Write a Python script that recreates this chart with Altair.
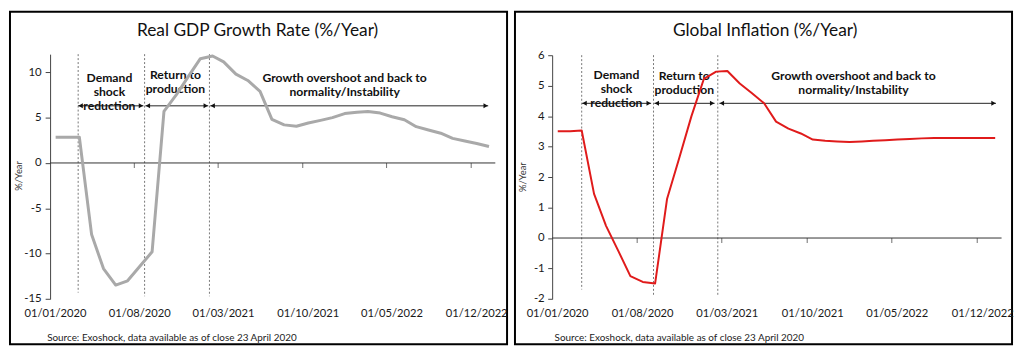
import altair as alt
import pandas as pd

# ---------------- data ----------------
MONTHS = [
    "2020-01-15", "2020-02-15", "2020-03-15", "2020-04-15", "2020-05-15", "2020-06-15",
    "2020-07-15", "2020-08-15", "2020-09-15", "2020-10-15", "2020-11-15", "2020-12-15",
    "2021-01-15", "2021-02-15", "2021-03-15", "2021-04-15", "2021-05-15", "2021-06-15",
    "2021-07-15", "2021-08-15", "2021-09-15", "2021-10-15", "2021-11-15", "2021-12-15",
    "2022-01-15", "2022-02-15", "2022-03-15", "2022-04-15", "2022-05-15", "2022-06-15",
    "2022-07-15", "2022-08-15", "2022-09-15", "2022-10-15", "2022-11-15", "2022-12-15",
    "2023-01-15",
]
GDP = [2.84, 2.84, 2.84, -7.9, -11.65, -13.47, -13.0, -11.4, -9.8, 5.7, 7.5, 9.5,
       11.5, 11.8, 11.15, 9.8, 9.1, 7.9, 4.8, 4.2, 4.05, 4.4, 4.7, 5.0,
       5.45, 5.6, 5.68, 5.5, 5.1, 4.76, 4.0, 3.63, 3.28, 2.71, 2.43, 2.15, 1.82]
INFL = [3.5, 3.5, 3.53, 1.45, 0.4, -0.43, -1.25, -1.44, -1.49, 1.29, 2.65, 4.0,
        5.22, 5.46, 5.48, 5.07, 4.76, 4.42, 3.82, 3.59, 3.43, 3.23, 3.19, 3.17,
        3.15, 3.17, 3.19, 3.21, 3.23, 3.25, 3.27, 3.28, 3.28, 3.28, 3.28, 3.28, 3.28]

X_START, X_END = "2020-01-01", "2023-01-31"
TICK_DATES = ["2020-01-01", "2020-08-01", "2021-03-01", "2021-10-01", "2022-05-01", "2022-12-01"]

PHASE_LABELS = ["Demand\nshock\nreduction", "Return to\nproduction",
                "Growth overshoot and back to\nnormality/Instability"]

GDP_PHASE_LINES = ["2020-03-12", "2020-08-27", "2021-02-07"]
GDP_PHASE_BOTTOMS = [-14.3, -14.7, -14.7]
GDP_ARROW_START = ["2020-03-12", "2020-08-29", "2021-02-09"]
GDP_ARROW_END = ["2020-08-24", "2021-02-04", "2023-01-13"]
GDP_ARROW_Y = 6.3
GDP_LABEL_X = ["2020-05-30", "2020-11-13", "2022-01-15"]
GDP_LABEL_Y = [9.4, 9.71, 9.34]

INF_PHASE_LINES = ["2020-03-15", "2020-09-11", "2021-02-19"]
INF_PHASE_BOTTOMS = [-1.69, -1.87, -1.87]
INF_ARROW_START = ["2020-03-16", "2020-09-13", "2021-02-23"]
INF_ARROW_END = ["2020-09-05", "2021-02-11", "2023-01-17"]
INF_ARROW_Y = 4.42
INF_LABEL_X = ["2020-06-10", "2020-11-27", "2022-01-25"]
INF_LABEL_Y = [5.34, 5.32, 5.31]

SOURCE = "Source:  Exoshock, data available as of close 23 April 2020"

# ---------------- layout ----------------
REF_W, REF_H = 508.0, 357.0
PW, PH = 502, 336
SX, SY = PW / REF_W, PH / REF_H
FONT = "Lato"
MINUS_EXPR = "datum.value < 0 ? '-' + abs(datum.value) : '' + datum.value"


def ms(s):
    return int(pd.Timestamp(s, tz="UTC").value // 10**6)


def panel(title, values, color, lw, ydom, yvals, yr_ref, xr_ref,
          phase_lines, phase_bottoms, a_start, a_end, a_y, lab_x, lab_y,
          title_x_ref, ytitle_ref, src_x_ref, tick_size, label_pad):
    xr = [xr_ref[0] * SX, xr_ref[1] * SX]
    yr = [yr_ref[0] * SY, yr_ref[1] * SY]
    xscale = alt.Scale(type="utc", domain=[ms(X_START), ms(X_END)], range=xr)
    yscale = alt.Scale(domain=ydom, range=yr, nice=False, zero=False)

    df = pd.DataFrame({"date": MONTHS, "v": values})
    line = alt.Chart(df).mark_line(color=color, strokeWidth=lw, strokeJoin="round").encode(
        x=alt.X("date:T", scale=xscale,
                axis=alt.Axis(orient="bottom", values=[ms(d) for d in TICK_DATES],
                              format="%d/%m/%Y", domain=False, ticks=False, tickSize=0,
                              grid=False, labelFont=FONT, labelFontSize=11.3,
                              labelColor="#1a1a1a", labelBaseline="middle",
                              labelPadding=(323.5 - yr_ref[0]) * SY, labelOffset=5,
                              labelFlush=False, labelOverlap=False,
                              offset=yr[0] - PH, title=None)),
        y=alt.Y("v:Q", scale=yscale,
                axis=alt.Axis(orient="left", values=yvals, grid=False, labelExpr=MINUS_EXPR,
                              offset=-xr[0], domainColor="#444", tickColor="#444",
                              tickSize=tick_size, labelPadding=label_pad,
                              labelFont=FONT, labelFontSize=11.5, labelColor="#1a1a1a",
                              title="%/Year", titleFont=FONT, titleFontSize=9.5,
                              titleFontWeight="normal", titleColor="#333",
                              titleAngle=270, titleAlign="center", titleBaseline="middle",
                              titleX=(ytitle_ref[0] - xr_ref[0]) * SX,
                              titleY=ytitle_ref[1] * SY)),
    )

    zero = alt.Chart(pd.DataFrame({"s": [X_START], "e": [X_END], "v": [0]})).mark_rule(
        color="#333", strokeWidth=1).encode(x="s:T", x2="e:T", y="v:Q")
    ticks = alt.Chart(pd.DataFrame({"d": TICK_DATES[1:], "v": [0] * (len(TICK_DATES) - 1)})).mark_tick(
        orient="vertical", size=5, thickness=1, color="#333", yOffset=2.5).encode(x="d:T", y="v:Q")

    pl = pd.DataFrame({"d": phase_lines, "top": [ydom[1]] * 3, "bot": phase_bottoms})
    vlines = alt.Chart(pl).mark_rule(color="#777", strokeWidth=1, strokeDash=[2, 2]).encode(
        x="d:T", y="top:Q", y2="bot:Q")

    ar = pd.DataFrame({"s": a_start, "e": a_end, "y": [a_y] * 3})
    arrows = alt.Chart(ar).mark_rule(color="#222", strokeWidth=1).encode(x="s:T", x2="e:T", y="y:Q")
    heads_l = alt.Chart(ar).mark_point(shape="triangle-left", filled=True, size=26, opacity=1,
                                       color="#111", xOffset=2.5).encode(x="s:T", y="y:Q")
    heads_r = alt.Chart(ar).mark_point(shape="triangle-right", filled=True, size=26, opacity=1,
                                       color="#111", xOffset=-2.5).encode(x="e:T", y="y:Q")

    lab = pd.DataFrame({"d": lab_x, "v": lab_y, "t": PHASE_LABELS})
    labels = alt.Chart(lab).mark_text(lineBreak="\n", align="center", baseline="middle",
                                      font=FONT, fontWeight="bold", fontSize=12.3,
                                      lineHeight=15 * SY, color="#111").encode(
        x="d:T", y="v:Q", text="t:N")

    ttl = alt.Chart(pd.DataFrame({"t": [title]})).mark_text(
        align="center", baseline="middle", font=FONT, fontSize=17.5, color="#111").encode(
        x=alt.value(title_x_ref * SX), y=alt.value(20.7 * SY), text="t:N")
    src = alt.Chart(pd.DataFrame({"t": [SOURCE]})).mark_text(
        align="left", baseline="middle", font=FONT, fontSize=10, color="#222").encode(
        x=alt.value(src_x_ref * SX), y=alt.value(350.5 * SY), text="t:N")

    return alt.layer(vlines, zero, ticks, arrows, heads_l, heads_r, labels, line, ttl, src).properties(
        width=PW, height=PH)


left = panel("Real GDP Growth Rate (%/Year)", GDP, "#A9A9A9", 3, [-15, 12],
             [-15, -10, -5, 0, 5, 10], [308.3, 45.6], [41, 496],
             GDP_PHASE_LINES, GDP_PHASE_BOTTOMS, GDP_ARROW_START, GDP_ARROW_END, GDP_ARROW_Y,
             GDP_LABEL_X, GDP_LABEL_Y, 253, (9, 175.7), 38, 5, 4)
right = panel("Global Inflation (%/Year)", INFL, "#E01B1B", 2, [-2, 6],
              [-2, -1, 0, 1, 2, 3, 4, 5, 6], [308.3, 46.7], [38, 497.3],
              INF_PHASE_LINES, INF_PHASE_BOTTOMS, INF_ARROW_START, INF_ARROW_END, INF_ARROW_Y,
              INF_LABEL_X, INF_LABEL_Y, 255.7, (8, 177), 40.5, 4.5, 3.5)

chart = alt.hconcat(left, right, spacing=5).properties(
    padding={"left": 1, "top": 1, "right": 1, "bottom": 1}
).configure(
    font=FONT,
    view=alt.ViewConfig(stroke="#000000", strokeWidth=2),
)

chart.save("out.html", embed_options={"renderer": "svg", "actions": False})
